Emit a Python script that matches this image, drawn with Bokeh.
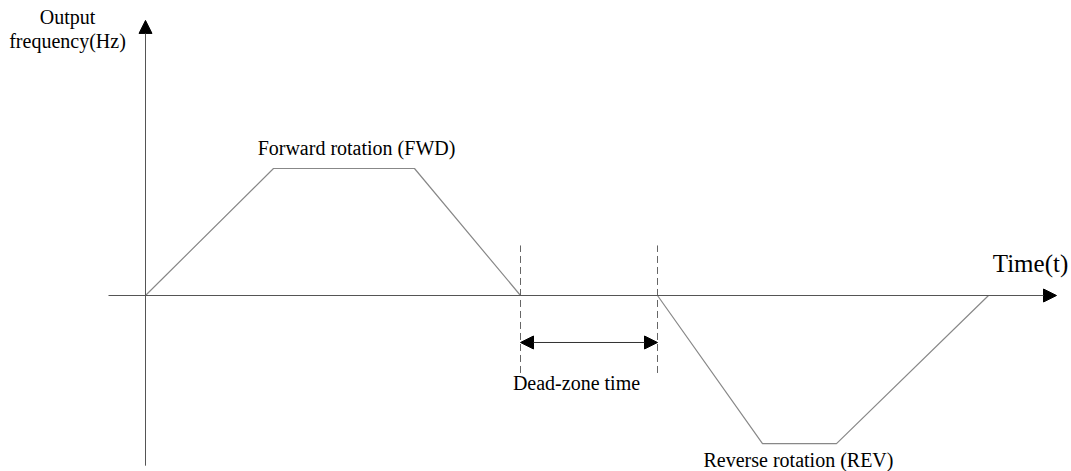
from bokeh.plotting import figure
from bokeh.models import Range1d, Arrow, NormalHead
from bokeh.core.properties import value
from bokeh.embed import file_html
from bokeh.resources import INLINE

# Profile (time units, frequency Hz)
time_pts = [0.0, 1.28, 2.69, 3.75, 5.12, 6.17, 6.91, 8.43]
freq_pts = [0.0, 50.0, 50.0, 0.0, 0.0, -58.3, -58.3, 0.0]

# dead-zone markers
dead_start = 3.75
dead_end = 5.12
dash_top = 19.7
dash_bottom = -30.5
dim_level = -18.5

# axes extents
x_axis_from, x_axis_to = -0.37, 9.11
y_axis_from, y_axis_to = -67.0, 108.3

label_text = ["Forward rotation (FWD)", "Dead-zone time", "Reverse rotation (REV)"]
label_x = [2.11, 4.31, 6.53]
label_y = [57.9, -34.6, -64.6]

ylabel_lines = ["Output", "frequency(Hz)"]
ylabel_x = [-0.78, -0.78]
ylabel_y = [109.8, 100.0]

xlabel_text = ["Time(t)"]
xlabel_x = [8.85]
xlabel_y = [12.6]

FONT = "Liberation Serif"

p = figure(width=1071, height=471, output_backend="svg", toolbar_location=None,
           x_range=Range1d(-1.45, 9.26), y_range=Range1d(-69.29, 116.14),
           min_border=0)
p.axis.visible = False
p.grid.visible = False
p.outline_line_color = None
p.background_fill_color = "white"

# axes with arrows
p.add_layout(Arrow(end=NormalHead(size=13, fill_color="black", line_color="black"),
                   x_start=x_axis_from, y_start=0, x_end=x_axis_to, y_end=0,
                   line_color="#555555", line_width=1))
p.add_layout(Arrow(end=NormalHead(size=13, fill_color="black", line_color="black"),
                   x_start=0, y_start=y_axis_from, x_end=0, y_end=y_axis_to,
                   line_color="#555555", line_width=1))

# frequency profile
p.line(time_pts, freq_pts, line_color="#888888", line_width=1.2)

# dashed markers
for xv in [dead_start, dead_end]:
    p.line([xv, xv], [dash_bottom, dash_top], line_color="#666666", line_width=1,
           line_dash="7 4")

# dimension arrow
p.add_layout(Arrow(start=NormalHead(size=13, fill_color="black", line_color="black"),
                   end=NormalHead(size=13, fill_color="black", line_color="black"),
                   x_start=dead_start, y_start=dim_level, x_end=dead_end, y_end=dim_level,
                   line_color="#333333", line_width=1))

p.text(x=label_x, y=label_y, text=label_text, text_font=value(FONT),
       text_font_size="20px", text_align="center", text_baseline="middle",
       text_color="black")
p.text(x=ylabel_x, y=ylabel_y, text=ylabel_lines, text_font=value(FONT),
       text_font_size="20px", text_align="center", text_baseline="middle",
       text_color="black")
p.text(x=xlabel_x, y=xlabel_y, text=xlabel_text, text_font=value(FONT),
       text_font_size="25px", text_align="center", text_baseline="middle",
       text_color="black")

open("out.html", "w").write(file_html(p, INLINE))
